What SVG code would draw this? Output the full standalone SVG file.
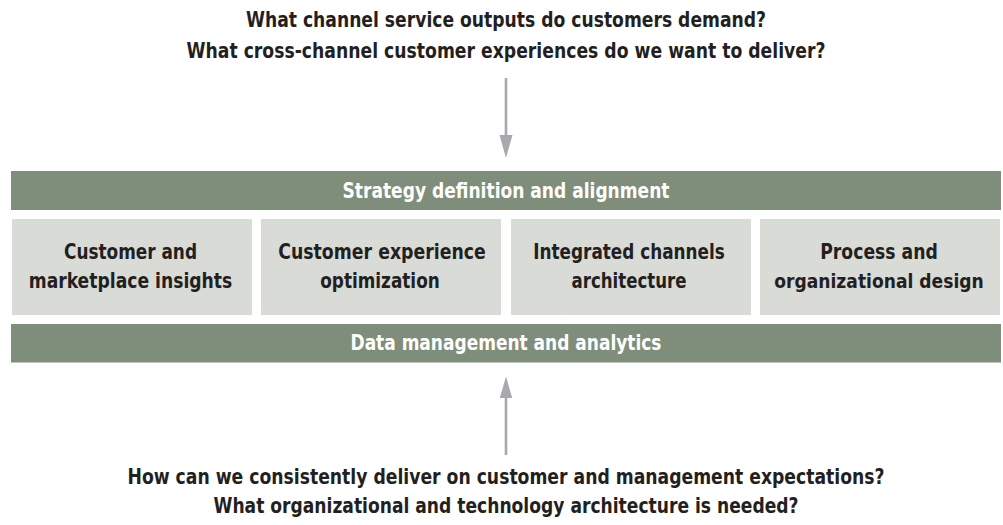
<svg xmlns="http://www.w3.org/2000/svg" width="1003" height="525" viewBox="0 0 1003 525">
<style>
.t{font-family:"DejaVu Sans Condensed","Liberation Sans Narrow","Liberation Sans",sans-serif;font-weight:bold;text-anchor:middle;fill:#231f20;font-size:22px}
.s{font-size:21px}
.n{font-size:19.5px}
.w{fill:#ffffff;font-size:21px}
.bar{fill:#7e8e7a}
.box{fill:#d9dbd7}
.ar{stroke:#a8a8ad;stroke-width:2.6;fill:none}
.ah{fill:#a8a8ad}
</style>
<rect width="1003" height="525" fill="#ffffff"/>
<g id="q-top">
<text class="t" x="506" y="27" textLength="520" lengthAdjust="spacingAndGlyphs">What channel service outputs do customers demand?</text>
<text class="t" x="506" y="57.5" textLength="639" lengthAdjust="spacingAndGlyphs">What cross-channel customer experiences do we want to deliver?</text>
</g>
<g id="strategy">
<rect class="bar" x="11" y="171" width="990" height="39"/>
<text class="t w" x="506" y="197.5" textLength="327" lengthAdjust="spacingAndGlyphs">Strategy definition and alignment</text>
</g>
<g id="box1">
<rect class="box" x="12" y="219" width="240" height="96"/>
<text class="t s" x="130.5" y="258.5" textLength="133" lengthAdjust="spacingAndGlyphs">Customer and</text>
<text class="t s" x="130.5" y="287.5" textLength="203.5" lengthAdjust="spacingAndGlyphs">marketplace insights</text>
</g>
<g id="box2">
<rect class="box" x="261" y="219" width="240" height="96"/>
<text class="t s" x="382" y="258.5" textLength="207.5" lengthAdjust="spacingAndGlyphs">Customer experience</text>
<text class="t s" x="380" y="287.5" textLength="119.5" lengthAdjust="spacingAndGlyphs">optimization</text>
</g>
<g id="box3">
<rect class="box" x="511" y="219" width="240" height="96"/>
<text class="t s" x="629" y="258.5" textLength="191.5" lengthAdjust="spacingAndGlyphs">Integrated channels</text>
<text class="t s" x="629" y="287.5" textLength="115" lengthAdjust="spacingAndGlyphs">architecture</text>
</g>
<g id="box4">
<rect class="box" x="760" y="219" width="240" height="96"/>
<text class="t s" x="879" y="258.5" textLength="117.5" lengthAdjust="spacingAndGlyphs">Process and</text>
<text class="t n" x="879" y="287.5" textLength="209.5" lengthAdjust="spacingAndGlyphs">organizational design</text>
</g>
<g id="data">
<rect class="bar" x="11" y="324" width="990" height="38.5"/>
<text class="t w" x="506" y="350" textLength="311" lengthAdjust="spacingAndGlyphs">Data management and analytics</text>
</g>
<g id="q-bottom">
<text class="t s" x="506" y="483.5" textLength="757" lengthAdjust="spacingAndGlyphs">How can we consistently deliver on customer and management expectations?</text>
<text class="t" x="506" y="513" textLength="585" lengthAdjust="spacingAndGlyphs">What organizational and technology architecture is needed?</text>
</g>
<g id="connectors">
<line class="ar" x1="506" y1="78" x2="506" y2="136"/>
<polygon class="ah" points="499.5,135 512.5,135 506,158"/>
<line class="ar" x1="506" y1="397" x2="506" y2="455"/>
<polygon class="ah" points="499.8,398 512.2,398 506,376.5"/>
</g>
</svg>
